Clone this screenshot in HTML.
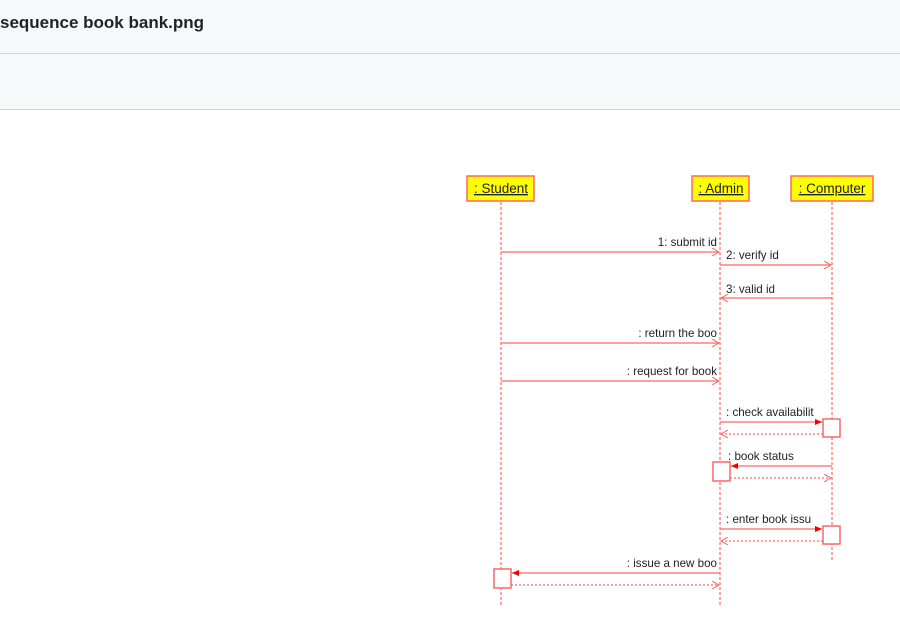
<!DOCTYPE html>
<html><head><meta charset="utf-8"><style>
body{margin:0;width:900px;height:635px;background:#fff;font-family:"Liberation Sans",sans-serif;overflow:hidden;position:relative}
.h1{position:absolute;left:0;top:0;width:900px;height:53px;background:#f6f8fa;border-bottom:1px solid #d0d7de}
.h2{position:absolute;left:0;top:54px;width:900px;height:55px;background:#f6f8fa;border-bottom:1px solid #d0d7de}
.t{position:absolute;left:0;top:13px;font-size:17px;color:#1f2328;font-weight:600}
svg{position:absolute;left:0;top:0}
</style></head><body>
<div class="h1"><div class="t">sequence book bank.png</div></div>
<div class="h2"></div>
<svg width="900" height="635" font-family="Liberation Sans, sans-serif" font-size="11.6">
<defs>
<marker id="o" markerWidth="8" markerHeight="8" refX="7" refY="4" orient="auto" markerUnits="userSpaceOnUse"><path d="M0,0 L7,4 L0,8" fill="none" stroke="#f66" stroke-width="1"/></marker>
<marker id="f" markerWidth="8" markerHeight="8" refX="7" refY="4" orient="auto" markerUnits="userSpaceOnUse"><path d="M0,1 L7,4 L0,7z" fill="#e00"/></marker>
</defs>
<g stroke="#f66" stroke-dasharray="3,2" stroke-width="1.2">
<line x1="501" y1="202" x2="501" y2="607"/>
<line x1="720" y1="202" x2="720" y2="607"/>
<line x1="832" y1="202" x2="832" y2="562"/>
</g>
<g fill="#ff0" stroke="#f66" stroke-width="1.5">
<rect x="467" y="176" width="67" height="25"/>
<rect x="692" y="176" width="57" height="25"/>
<rect x="791" y="176" width="82" height="25"/>
</g>
<g font-size="13.5" fill="#222" text-decoration="underline" text-anchor="middle">
<text x="501" y="193">: Student</text>
<text x="721" y="193">: Admin</text>
<text x="832" y="193">: Computer</text>
</g>
<g stroke="#f66" stroke-width="1.3" fill="none">
<line x1="501" y1="252" x2="719" y2="252" marker-end="url(#o)"/>
<line x1="720" y1="265" x2="831" y2="265" marker-end="url(#o)"/>
<line x1="832" y1="298" x2="721" y2="298" marker-end="url(#o)"/>
<line x1="501" y1="343" x2="719" y2="343" marker-end="url(#o)"/>
<line x1="501" y1="381" x2="719" y2="381" marker-end="url(#o)"/>
<line x1="720" y1="422" x2="822" y2="422" marker-end="url(#f)"/>
<line x1="823" y1="434" x2="721" y2="434" stroke-dasharray="2,2" marker-end="url(#o)"/>
<line x1="832" y1="466" x2="731" y2="466" marker-end="url(#f)"/>
<line x1="730" y1="478" x2="831" y2="478" stroke-dasharray="2,2" marker-end="url(#o)"/>
<line x1="720" y1="529" x2="822" y2="529" marker-end="url(#f)"/>
<line x1="823" y1="541" x2="721" y2="541" stroke-dasharray="2,2" marker-end="url(#o)"/>
<line x1="720" y1="573" x2="512" y2="573" marker-end="url(#f)"/>
<line x1="511" y1="585" x2="719" y2="585" stroke-dasharray="2,2" marker-end="url(#o)"/>
</g>
<g fill="#fff" stroke="#f66" stroke-width="1.5">
<rect x="823" y="419" width="17" height="18"/>
<rect x="713" y="462" width="17" height="19"/>
<rect x="823" y="526" width="17" height="18"/>
<rect x="494" y="569" width="17" height="19"/>
</g>
<g fill="#222">
<text x="717" y="246" text-anchor="end">1: submit id</text>
<text x="726" y="259">2: verify id</text>
<text x="726" y="293">3: valid id</text>
<text x="717" y="337" text-anchor="end">: return the boo</text>
<text x="717" y="375" text-anchor="end">: request for book</text>
<text x="726" y="416">: check availabilit</text>
<text x="728" y="460">: book status</text>
<text x="726" y="523">: enter book issu</text>
<text x="717" y="567" text-anchor="end">: issue a new boo</text>
</g>
</svg>
</body></html>
